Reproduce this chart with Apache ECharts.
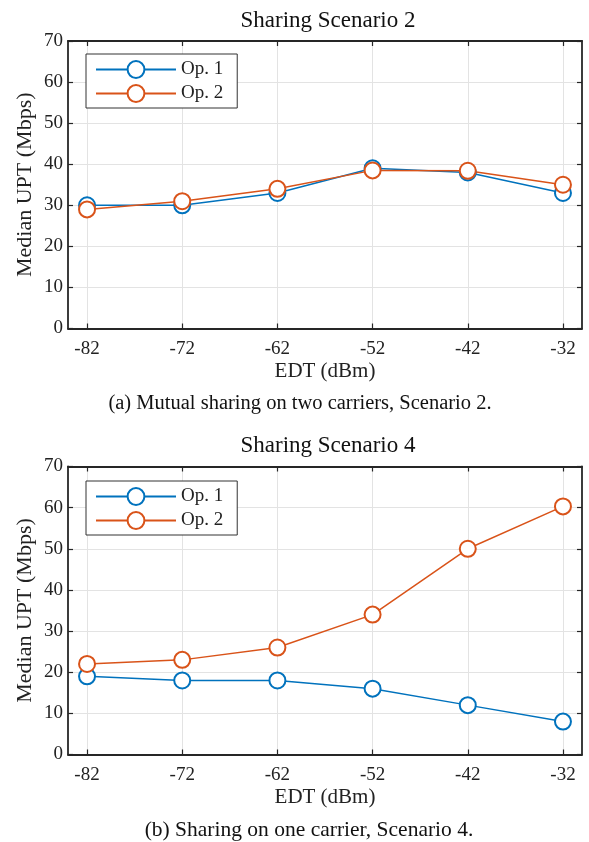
<!DOCTYPE html>
<html>
<head>
<meta charset="utf-8">
<script src="https://cdn.jsdelivr.net/npm/echarts@6/dist/echarts.min.js"></script>
<style>
html,body{margin:0;padding:0;background:#fff;}
#c{width:589px;height:842px;}
</style>
</head>
<body>
<div id="c"></div>
<script>
// ---- data ----
const edt = [-82, -72, -62, -52, -42, -32];
const xTickLabels = [-82, -72, -62, -52, -42, -32];
const scen2Op1 = [30, 30, 33, 39, 38, 33];
const scen2Op2 = [29, 31, 34, 38.5, 38.4, 35];
const scen4Op1 = [19, 18, 18, 16, 12, 8];
const scen4Op2 = [22, 23, 26, 34, 50, 60.3];
const seriesNames = ['Op. 1', 'Op. 2'];
const titles = ['Sharing Scenario 2', 'Sharing Scenario 4'];
const captions = ['(a) Mutual sharing on two carriers, Scenario 2.', '(b) Sharing on one carrier, Scenario 4.'];
const xName = 'EDT (dBm)';
const yName = 'Median UPT (Mbps)';

const FONT = '"Liberation Serif", "DejaVu Serif", serif';
const BLUE = '#0072BD', ORANGE = '#D95319';
const AXC = '#262626', GRIDC = '#e3e3e3';

const grids = [
  {left: 68, width: 514, top: 41, height: 287.5},
  {left: 68, width: 514, top: 466.5, height: 288}
];

function pts(arr){ return edt.map((x, i) => [x, arr[i]]); }

const xAxes = [], yAxes = [];
grids.forEach((g, gi) => {
  xAxes.push({
    type: 'value', gridIndex: gi, min: -84, max: -30, position: 'bottom',
    name: xName, nameLocation: 'middle', nameGap: 32, nameMoveOverlap: false,
    nameTextStyle: {fontFamily: FONT, fontSize: 21, color: '#222'},
    axisLine: {show: true, onZero: false, lineStyle: {color: AXC, width: 1.8}},
    axisTick: {show: true, inside: true, length: 5, customValues: xTickLabels, lineStyle: {color: AXC, width: 1.2}},
    axisLabel: {show: true, customValues: xTickLabels, margin: 11, fontFamily: FONT, fontSize: 19, color: '#222'},
    splitLine: {show: true, lineStyle: {color: GRIDC, width: 1}}
  });
  xAxes.push({
    type: 'value', gridIndex: gi, min: -84, max: -30, position: 'top',
    axisLine: {show: true, onZero: false, lineStyle: {color: AXC, width: 1.8}},
    axisTick: {show: true, inside: true, length: 5, customValues: xTickLabels, lineStyle: {color: AXC, width: 1.2}},
    axisLabel: {show: false},
    splitLine: {show: false}
  });
  yAxes.push({
    type: 'value', gridIndex: gi, min: 0, max: 70, interval: 10, position: 'left',
    name: yName, nameLocation: 'middle', nameGap: 32, nameRotate: 90, nameMoveOverlap: false,
    nameTextStyle: {fontFamily: FONT, fontSize: 22, color: '#222'},
    axisLine: {show: true, onZero: false, lineStyle: {color: AXC, width: 1.8}},
    axisTick: {show: true, inside: true, length: 5, lineStyle: {color: AXC, width: 1.2}},
    axisLabel: {show: true, margin: 5, fontFamily: FONT, fontSize: 19, color: '#222'},
    splitLine: {show: true, lineStyle: {color: GRIDC, width: 1}}
  });
  yAxes.push({
    type: 'value', gridIndex: gi, min: 0, max: 70, interval: 10, position: 'right',
    axisLine: {show: true, onZero: false, lineStyle: {color: AXC, width: 1.8}},
    axisTick: {show: true, inside: true, length: 5, lineStyle: {color: AXC, width: 1.2}},
    axisLabel: {show: false},
    splitLine: {show: false}
  });
});

function mkSeries(name, data, color, gi){
  return {
    name: name, type: 'line', data: pts(data),
    xAxisIndex: gi * 2, yAxisIndex: gi * 2,
    symbol: 'emptyCircle', symbolSize: 16,
    lineStyle: {color: color, width: 1.5},
    itemStyle: {color: color, borderColor: color, borderWidth: 2},
    emphasis: {disabled: true}, animation: false
  };
}

const series = [
  mkSeries(seriesNames[0], scen2Op1, BLUE, 0),
  mkSeries(seriesNames[1], scen2Op2, ORANGE, 0),
  mkSeries(seriesNames[0], scen4Op1, BLUE, 1),
  mkSeries(seriesNames[1], scen4Op2, ORANGE, 1)
];

function mkLegend(top){
  return {
    left: 86, top: top, orient: 'vertical',
    data: seriesNames,
    itemWidth: 80, itemHeight: 21, itemGap: 5,
    padding: [6, 14, 5, 9],
    backgroundColor: '#fff', borderColor: '#333', borderWidth: 1, borderRadius: 0,
    textStyle: {fontFamily: FONT, fontSize: 19, color: '#222'},
    selectedMode: false
  };
}

const option = {
  backgroundColor: '#fff',
  animation: false,
  title: [
    {text: titles[0], left: 323, top: 4, textAlign: 'center', textStyle: {fontFamily: FONT, fontSize: 23, fontWeight: 'normal', color: '#111'}},
    {text: titles[1], left: 323, top: 429, textAlign: 'center', textStyle: {fontFamily: FONT, fontSize: 23, fontWeight: 'normal', color: '#111'}},
    {text: captions[0], left: 295, top: 388, textAlign: 'center', textStyle: {fontFamily: FONT, fontSize: 20.5, fontWeight: 'normal', color: '#111'}},
    {text: captions[1], left: 304, top: 814, textAlign: 'center', textStyle: {fontFamily: FONT, fontSize: 21.5, fontWeight: 'normal', color: '#111'}}
  ],
  legend: [mkLegend(54), mkLegend(481)],
  grid: grids,
  xAxis: xAxes,
  yAxis: yAxes,
  series: series
};

const chart = echarts.init(document.getElementById('c'), null, {renderer: 'canvas'});
chart.setOption(option);
</script>
</body>
</html>
